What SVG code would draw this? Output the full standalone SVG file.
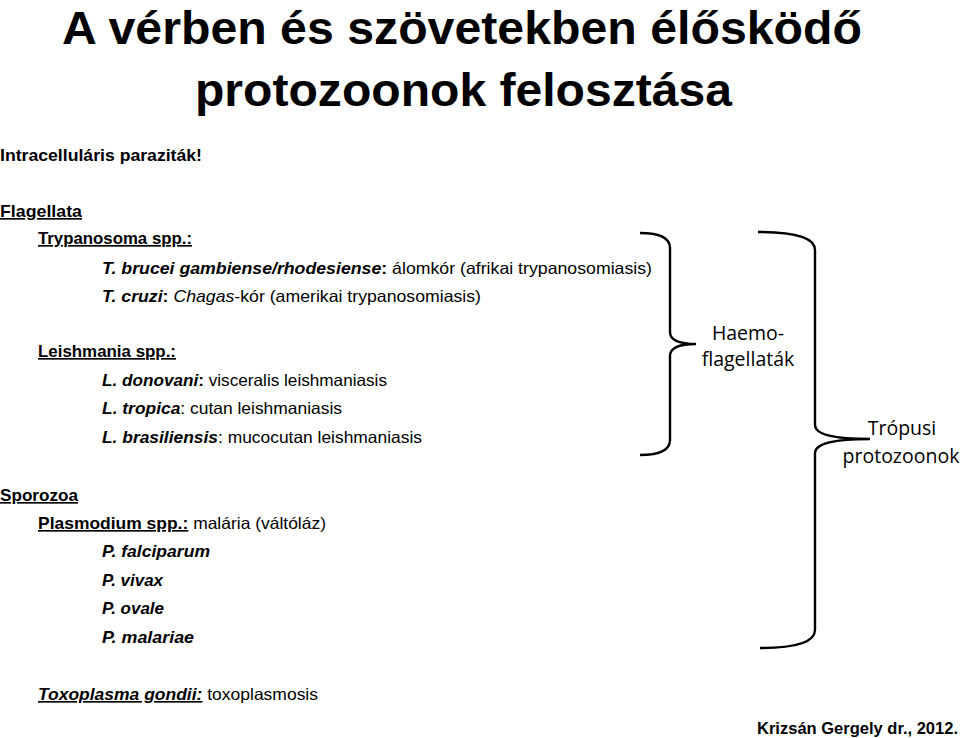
<svg xmlns="http://www.w3.org/2000/svg" width="960" height="738" viewBox="0 0 960 738">
<style>
text{font-family:"Liberation Sans",Arial,sans-serif;fill:#000}
.t{font-size:47px;font-weight:bold}
.b{font-size:16.5px}
.bd{font-weight:bold}
.i{font-style:italic}
.u{text-decoration:underline}
.lbl{font-size:19.5px;font-family:"Open Sans","Liberation Sans",sans-serif}
.brace{fill:none;stroke:#000;stroke-width:2.4}
</style>
<rect width="960" height="738" fill="#fff"/>
<g id="title">
<text class="t" x="62" y="44" textLength="800" lengthAdjust="spacingAndGlyphs">A vérben és szövetekben élősködő</text>
<text class="t" x="195" y="106" textLength="537" lengthAdjust="spacingAndGlyphs">protozoonok felosztása</text>
</g>
<g id="intracellular">
<text class="b bd" x="0" y="161" textLength="202" lengthAdjust="spacingAndGlyphs">Intracelluláris paraziták!</text>
</g>
<g id="flagellata">
<text class="b bd u" x="0" y="217" textLength="82" lengthAdjust="spacingAndGlyphs">Flagellata</text>
<text class="b bd u" x="38" y="244" textLength="154" lengthAdjust="spacingAndGlyphs">Trypanosoma spp.:</text>
<text class="b" x="102" y="274" textLength="550" lengthAdjust="spacingAndGlyphs"><tspan class="bd i">T. brucei gambiense/rhodesiense</tspan><tspan class="bd">:</tspan> álomkór (afrikai trypanosomiasis)</text>
<text class="b" x="102" y="302" textLength="379" lengthAdjust="spacingAndGlyphs"><tspan class="bd i">T. cruzi</tspan><tspan class="bd">:</tspan> <tspan class="i">Chagas</tspan>-kór (amerikai trypanosomiasis)</text>
<text class="b bd u" x="38" y="357" textLength="138" lengthAdjust="spacingAndGlyphs">Leishmania spp.:</text>
<text class="b" x="102" y="386" textLength="285" lengthAdjust="spacingAndGlyphs"><tspan class="bd i">L. donovani</tspan><tspan class="bd">:</tspan> visceralis leishmaniasis</text>
<text class="b" x="102" y="414" textLength="240" lengthAdjust="spacingAndGlyphs"><tspan class="bd i">L. tropica</tspan>: cutan leishmaniasis</text>
<text class="b" x="102" y="443" textLength="320" lengthAdjust="spacingAndGlyphs"><tspan class="bd i">L. brasiliensis</tspan>: mucocutan leishmaniasis</text>
</g>
<g id="sporozoa">
<text class="b bd u" x="0" y="501" textLength="78" lengthAdjust="spacingAndGlyphs">Sporozoa</text>
<text class="b" x="38" y="529" textLength="288" lengthAdjust="spacingAndGlyphs"><tspan class="bd u">Plasmodium spp.:</tspan> malária (váltóláz)</text>
<text class="b bd i" x="102" y="557" textLength="108" lengthAdjust="spacingAndGlyphs">P. falciparum</text>
<text class="b bd i" x="102" y="586" textLength="61" lengthAdjust="spacingAndGlyphs">P. vivax</text>
<text class="b bd i" x="102" y="614" textLength="62" lengthAdjust="spacingAndGlyphs">P. ovale</text>
<text class="b bd i" x="102" y="643" textLength="92" lengthAdjust="spacingAndGlyphs">P. malariae</text>
</g>
<g id="toxoplasma">
<text class="b" x="38" y="700" textLength="280" lengthAdjust="spacingAndGlyphs"><tspan class="bd i u">Toxoplasma gondii:</tspan> toxoplasmosis</text>
</g>
<g id="connectors">
<path id="brace-haemo" class="brace" d="M640,233 Q670,233 670,248 L670,332 Q670,344 696,344 Q670,344 670,356 L670,440 Q670,455 640,455"/>
<path id="brace-tropical" class="brace" d="M758,232 Q815,232 815,250 L815,425 Q815,439 870,439 Q815,439 815,453 L815,630 Q815,648 760,648"/>
</g>
<g id="haemoflagellatak">
<text class="lbl" x="748" y="340" text-anchor="middle">Haemo-</text>
<text class="lbl" x="748" y="366" text-anchor="middle">flagellaták</text>
</g>
<g id="tropusi">
<text class="lbl" x="902" y="435" text-anchor="middle">Trópusi</text>
<text class="lbl" x="901" y="463" text-anchor="middle">protozoonok</text>
</g>
<g id="credit">
<text class="bd" x="958" y="734" text-anchor="end" font-size="16" textLength="201" lengthAdjust="spacingAndGlyphs">Krizsán Gergely dr., 2012.</text>
</g>
</svg>
